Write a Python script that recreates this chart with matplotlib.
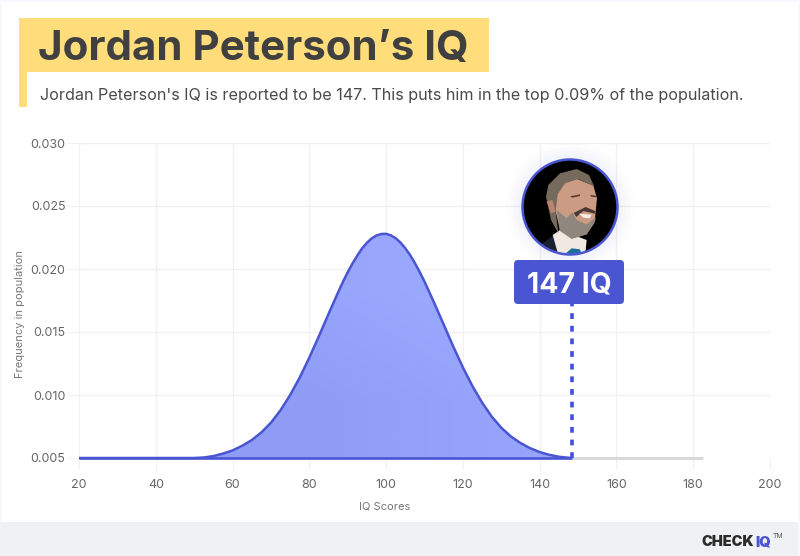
import matplotlib
matplotlib.use("Agg")
import matplotlib.pyplot as plt
import numpy as np
from matplotlib.patches import Rectangle, FancyBboxPatch, Circle, Polygon

plt.rcParams['font.family'] = ['Inter', 'DejaVu Sans']

iq = [20, 30, 40, 50, 52.5, 55, 57.5, 60, 62.5, 65, 67.5, 70, 72.5, 75, 77.5, 80, 82.5, 85, 87.5, 88.75, 90,
      91.25, 92.5, 93.75, 95, 96.25, 97.5, 98.75, 100, 101.25, 102.5, 103.75, 105, 106.25, 107.5, 108.75, 110,
      112.5, 115, 117.5, 120, 122.5, 125, 127.5, 130, 132.5, 135, 137.5, 140, 142.5, 145, 147.5, 148.5]
freq = [.005, .005, .005, .005, .00504, .00515, .00535, .0056, .00597, .00642, .00703, .0078, .00879, .0100,
        .01139, .01297, .01467, .01643, .01815, .01898, .01974, .02044, .02107, .02164, .02208, .02243, .02266,
        .02278, .02279, .02267, .02244, .0221, .02164, .02111, .02047, .01976, .019,
        .01733, .01559, .01384, .01219, .0107, .0094, .00829, .0074, .00671, .00619, .00578,
        .00547, .00525, .00510, .00502, .005]
tail_iq = [148.5, 182.5]
tail_freq = [.005, .005]
base_iq = [20, 148.5]
base_freq = [.005, .005]
marker_iq = 148.3
marker_top = 0.0172
xticks = [20, 40, 60, 80, 100, 120, 140, 160, 180, 200]
yticks = [0.005, 0.010, 0.015, 0.020, 0.025, 0.030]
ylabels = ['0.005', '0.010', '0.015', '0.020', '0.025', '0.030']

W, H = 800, 556
BLUE = '#4a56d1'
fig = plt.figure(figsize=(W / 100, H / 100), dpi=100, facecolor='#f8f9ff')

# page layer in pixel coordinates
bg = fig.add_axes([0, 0, 1, 1], zorder=0)
bg.set_xlim(0, W); bg.set_ylim(H, 0); bg.axis('off')
bg.add_patch(Rectangle((2, 2), 796, 520, fc='white', ec='none'))
bg.add_patch(Rectangle((0, 522), 798, 34, fc='#f0f1f3', ec='none'))
bg.add_patch(Rectangle((19, 18), 470, 54, fc='#ffdd7b', ec='none'))
bg.add_patch(Rectangle((19, 72), 8, 35, fc='#ffdd7b', ec='none'))
bg.text(38.5, 45, 'Jordan Peterson’s IQ', fontsize=30.3, fontweight='bold', color='#404040', va='center_baseline', ha='left')
bg.text(40, 94, "Jordan Peterson's IQ is reported to be 147. This puts him in the top 0.09% of the population.",
        fontsize=11.6, color='#4a4a4a', va='center_baseline', ha='left')
bg.text(702, 541, 'CHECK', fontsize=10.5, fontweight='black', color='#2b2b2b', va='center_baseline', ha='left')
bg.text(755, 541, 'IQ', fontsize=10.5, fontweight='black', color='#4a56d1', va='center_baseline', ha='left')
bg.text(773, 536, 'TM', fontsize=5, color='#555555', va='center_baseline', ha='left')
bg.text(385, 506, 'IQ Scores', fontsize=8, color='#777777', ha='center', va='center')
bg.text(20, 314, 'Frequency in population', fontsize=8, color='#777777', rotation=90, ha='center', va='center')

# chart
ax = fig.add_axes([79 / W, 1 - 458 / H, (770 - 79) / W, (458 - 143) / H], zorder=1)
ax.patch.set_alpha(0)
ax.set_xlim(20, 200)
ax.set_ylim(0.005, 0.030)
for s in ax.spines.values():
    s.set_visible(False)
ax.set_xticks(xticks)
ax.set_yticks(yticks, ylabels)
ax.grid(True, color='#f1f1f3', lw=1.0)
ax.set_axisbelow(True)
ax.tick_params(axis='both', length=8.5, width=0.8, color='#f1f1f3', labelcolor='#666666', labelsize=9)
ax.tick_params(axis='x', pad=6.5)
ax.tick_params(axis='y', pad=1.3)
for t in ax.get_xticklines() + ax.get_yticklines():
    t.set_clip_on(False)

fill = ax.fill_between(iq, freq, 0.005, color='none', lw=0, zorder=2)
grad = np.array([[0.0, 0.5], [0.5, 1.0]])
cmap = matplotlib.colors.LinearSegmentedColormap.from_list('g', ['#8f9cf6', '#9caafe'])
im = ax.imshow(grad, extent=(50, 150, 0.005, 0.023), origin='lower', cmap=cmap, aspect='auto',
               interpolation='bilinear', zorder=2)
im.set_clip_path(fill.get_paths()[0], transform=ax.transData)
ax.set_xlim(20, 200)
ax.set_ylim(0.005, 0.030)

ax.plot(tail_iq, tail_freq, color='#d9d9d9', lw=2.2, clip_on=False, solid_capstyle='butt', zorder=3)
ax.plot(base_iq, base_freq, color=BLUE, lw=1.9, clip_on=False, solid_capstyle='butt', zorder=4)
ax.plot(iq, freq, color=BLUE, lw=1.8, clip_on=False, solid_capstyle='butt', solid_joinstyle='round', zorder=4)
ax.plot([marker_iq, marker_iq], [0.005, marker_top], color='#3f4fe0', lw=2.6, ls=(0, (1.6, 1.9)), zorder=5)

# overlay: label and portrait
ov = fig.add_axes([0, 0, 1, 1], zorder=2)
ov.set_xlim(0, W); ov.set_ylim(H, 0); ov.axis('off'); ov.patch.set_alpha(0)
for r, a in [(64, .012), (60, .015), (56, .02), (52, .025)]:
    ov.add_patch(Circle((570, 207), r, fc='#5a66e0', ec='none', alpha=a))
ov.add_patch(FancyBboxPatch((517, 263), 104, 38, boxstyle='round,pad=3,rounding_size=4', fc=BLUE, ec='none', zorder=3))
ov.text(569, 281.5, '147 IQ', color='white', fontsize=20.5, fontweight='bold', ha='center', va='center_baseline', zorder=4)

clip = Circle((570, 207), 47.5, fc='black', ec='none', zorder=2)
ov.add_patch(clip)
def P(pts, color, z=3):
    poly = Polygon([(515 + x / 3, 155 + y / 3) for x, y in pts], closed=True, fc=color, ec='none', zorder=z)
    ov.add_patch(poly)
    poly.set_clip_path(clip)
P([(75, 300), (82, 265), (118, 240), (140, 300)], '#1a2030')
P([(113, 240), (135, 225), (215, 255), (212, 285), (205, 300), (130, 300)], '#efe9e2')
P([(152, 295), (170, 280), (195, 283), (200, 300)], '#1c6c9c', 4)
P([(115, 110), (170, 65), (235, 92), (246, 130), (240, 190), (215, 238), (170, 250), (135, 225), (122, 170)], '#cc9b84')
P([(93, 125), (100, 90), (135, 55), (185, 42), (222, 60), (238, 95), (190, 72), (150, 85), (128, 118), (122, 170), (130, 235), (108, 195)], '#766a5c')
P([(125, 165), (155, 190), (172, 172), (185, 195), (215, 208), (243, 188), (238, 205), (215, 238), (170, 252), (135, 228)], '#8f867e')
P([(176, 174), (212, 156), (240, 168), (240, 176), (205, 168), (184, 186)], '#4a3630', 4)
P([(192, 176), (230, 179), (224, 190), (205, 188)], '#f6efe8', 5)
P([(165, 124), (195, 118), (195, 123), (172, 128)], '#5a3a30', 4)
P([(226, 120), (243, 122), (243, 127), (228, 125)], '#5a3a30', 4)
P([(95, 140), (112, 135), (122, 170), (108, 175)], '#b98570', 4)
ov.add_patch(Circle((570, 207), 47.5, fc='none', ec=BLUE, lw=1.8, zorder=6))

fig.savefig('out.png', dpi=100, facecolor=fig.get_facecolor())
